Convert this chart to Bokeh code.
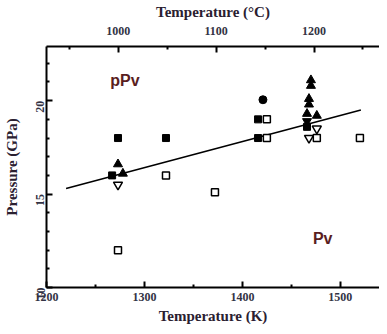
import math
from bokeh.plotting import figure
from bokeh.models import LinearAxis, Range1d, FixedTicker, ColumnDataSource
from bokeh.core.properties import value
from bokeh.embed import file_html
from bokeh.resources import INLINE

# Data (temperature in K, pressure in GPa)
filled_sq_T = [1273, 1322, 1267, 1416, 1416, 1466]
filled_sq_P = [18.0, 18.0, 16.0, 19.0, 18.0, 18.6]
open_sq_T = [1273, 1322, 1372, 1425, 1425, 1476, 1520]
open_sq_P = [12.0, 16.0, 15.1, 19.0, 18.0, 18.0, 18.0]
filled_up_T = [1273, 1470, 1470, 1468, 1468, 1466, 1476, 1278]
filled_up_P = [16.6, 21.1, 20.8, 20.1, 19.8, 19.3, 19.2, 16.1]
filled_down_T = [1466]
filled_down_P = [18.9]
open_down_T = [1273, 1476, 1468]
open_down_P = [15.5, 18.5, 18.0]
filled_circ_T = [1421]
filled_circ_P = [20.05]
line_T = [1220, 1521]
line_P = [15.3, 19.5]
label_T = [1280, 1482]
label_P = [21.1, 12.6]
label_txt = ["pPv", "Pv"]
k_ticks = [1200, 1300, 1400, 1500]
c_ticks = [1000, 1100, 1200]
p_ticks = [10, 15, 20]

x0, x1 = 1200, 1540
y0, y1 = 10, 22.9

p = figure(width=379, height=326, output_backend="svg", toolbar_location=None,
           x_range=Range1d(x0, x1), y_range=Range1d(y0, y1),
           x_axis_location="below", min_border_left=46, min_border_right=0,
           min_border_top=45, min_border_bottom=39)
p.outline_line_color = None
p.xgrid.visible = False
p.ygrid.visible = False
p.extra_x_ranges = {"C": Range1d(x0 - 273.15, x1 - 273.15)}

serif = "Liberation Serif"

def style(ax):
    ax.axis_line_width = 2
    ax.major_tick_line_width = 2
    ax.minor_tick_line_width = 2
    ax.major_tick_in = 6
    ax.major_tick_out = 0
    ax.minor_tick_in = 3
    ax.minor_tick_out = 0
    ax.major_label_text_font = serif
    ax.major_label_text_font_style = "bold"
    ax.major_label_text_font_size = "12px"
    ax.major_label_text_color = "#333344"
    ax.axis_label_text_font = serif
    ax.axis_label_text_font_style = "bold"
    ax.axis_label_text_font_size = "15px"
    ax.axis_label_text_color = "#2a2030"

xa = p.xaxis[0]
style(xa)
xa.ticker = FixedTicker(ticks=k_ticks, minor_ticks=[1250, 1350, 1450])
xa.axis_label = "Temperature (K)"
xa.major_label_standoff = 5
xa.axis_label_standoff = 4

ya = p.yaxis[0]
style(ya)
ya.ticker = FixedTicker(ticks=p_ticks, minor_ticks=[11, 12, 13, 14, 16, 17, 18, 19, 21, 22])
ya.axis_label = "Pressure (GPa)"
ya.major_label_orientation = math.pi / 2
ya.major_label_standoff = 6
ya.axis_label_standoff = 10

top = LinearAxis(x_range_name="C", axis_label="Temperature (°C)")
style(top)
top.ticker = FixedTicker(ticks=c_ticks, minor_ticks=[950, 1050, 1150, 1250])
top.major_label_standoff = 12
top.axis_label_standoff = 4
p.add_layout(top, "above")

p.line(line_T, line_P, line_color="black", line_width=1.6)

p.scatter(open_sq_T, open_sq_P, marker="square", size=7, fill_color="white",
          line_color="black", line_width=1.5)
p.scatter(filled_sq_T, filled_sq_P, marker="square", size=7, fill_color="black",
          line_color="black")
p.scatter(filled_circ_T, filled_circ_P, marker="circle", size=8, fill_color="black",
          line_color="black")
p.scatter(filled_up_T, filled_up_P, marker="triangle", size=9, fill_color="black",
          line_color="black")
p.scatter(filled_down_T, filled_down_P, marker="inverted_triangle", size=9,
          fill_color="black", line_color="black")
p.scatter(open_down_T, open_down_P, marker="inverted_triangle", size=9,
          fill_color="white", line_color="black", line_width=1.5)

src = ColumnDataSource(dict(x=label_T, y=label_P, t=label_txt))
p.text(x="x", y="y", text="t", source=src, text_font=value("Liberation Sans"),
       text_font_style="bold", text_font_size="16px", text_color="#5a1e1e",
       text_align="center", text_baseline="middle")

open("out.html", "w").write(file_html(p, INLINE))
